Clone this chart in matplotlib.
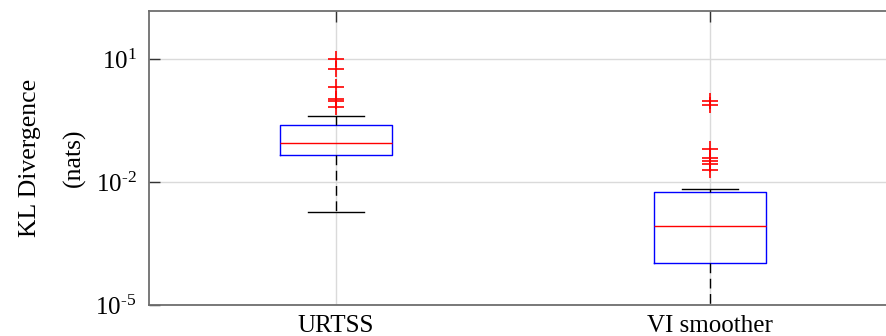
import numpy as np
import matplotlib.pyplot as plt
from matplotlib.ticker import NullLocator, FuncFormatter

plt.rcParams['font.family'] = ['Liberation Serif', 'DejaVu Serif']
plt.rcParams['mathtext.fontset'] = 'custom'
plt.rcParams['mathtext.rm'] = 'Liberation Serif'

methods = ["URTSS", "VI smoother"]

# box statistics, per method
medians = [0.089, 8.6e-4]
q1s = [0.0457, 1.09e-4]
q3s = [0.25, 0.0059]
whis_lo = [0.00189, 1e-6]
whis_hi = [0.414, 0.00698]
outliers = [
    [10.0, 5.7, 2.15, 1.06, 0.96, 0.70],
    [0.946, 0.755, 0.0638, 0.0385, 0.0331, 0.0279, 0.020],
]

stats = []
for i in range(len(methods)):
    stats.append(dict(med=medians[i], q1=q1s[i], q3=q3s[i],
                      whislo=whis_lo[i], whishi=whis_hi[i],
                      fliers=outliers[i], label=methods[i]))

fig = plt.figure(figsize=(8.86, 3.36), dpi=100)
ax = fig.add_axes([149 / 886, 31 / 336, 748 / 886, 294 / 336])

ax.bxp(stats, positions=[1, 2], widths=0.3, capwidths=0.15,
       boxprops=dict(color="#0000ff", lw=1.0),
       medianprops=dict(color="#ff0000", lw=1.0),
       whiskerprops=dict(color="black", lw=1.0, linestyle=(0, (7, 4))),
       capprops=dict(color="black", lw=1.0),
       flierprops=dict(marker="+", markeredgecolor="#ff0000", markersize=11,
                       markeredgewidth=1.2, linestyle="none"),
       zorder=3)


def pow10(y, pos):
    e = int(round(np.log10(y)))
    if e < 0:
        return r"$\mathdefault{10^{\text{-}%d}}$" % (-e)
    return r"$\mathdefault{10^{%d}}$" % e


ax.set_yscale("log")
ax.set_ylim(1e-5, 10 ** 2.18)
ax.set_xlim(0.5, 2.5)
ax.set_yticks([1e-5, 1e-2, 1e1])
ax.yaxis.set_major_formatter(FuncFormatter(pow10))
ax.yaxis.set_minor_locator(NullLocator())
ax.set_xticks([1, 2])
ax.set_xticklabels(methods)

ax.grid(True, color="#dadada", lw=1.0, zorder=0)
ax.set_axisbelow(True)
for s in ax.spines.values():
    s.set_color("#6e6e6e")
    s.set_linewidth(1.3)

ax.tick_params(axis="y", direction="in", length=8, width=1.0, color="#333333",
               labelsize=18, pad=9, right=True)
ax.tick_params(axis="x", direction="in", length=8, width=1.0, color="#333333",
               labelsize=18, pad=7, bottom=False, top=True)

ax.set_ylabel("KL Divergence\n(nats)", fontsize=18.5, linespacing=2.2, labelpad=7)

fig.savefig("out.png", dpi=100)
